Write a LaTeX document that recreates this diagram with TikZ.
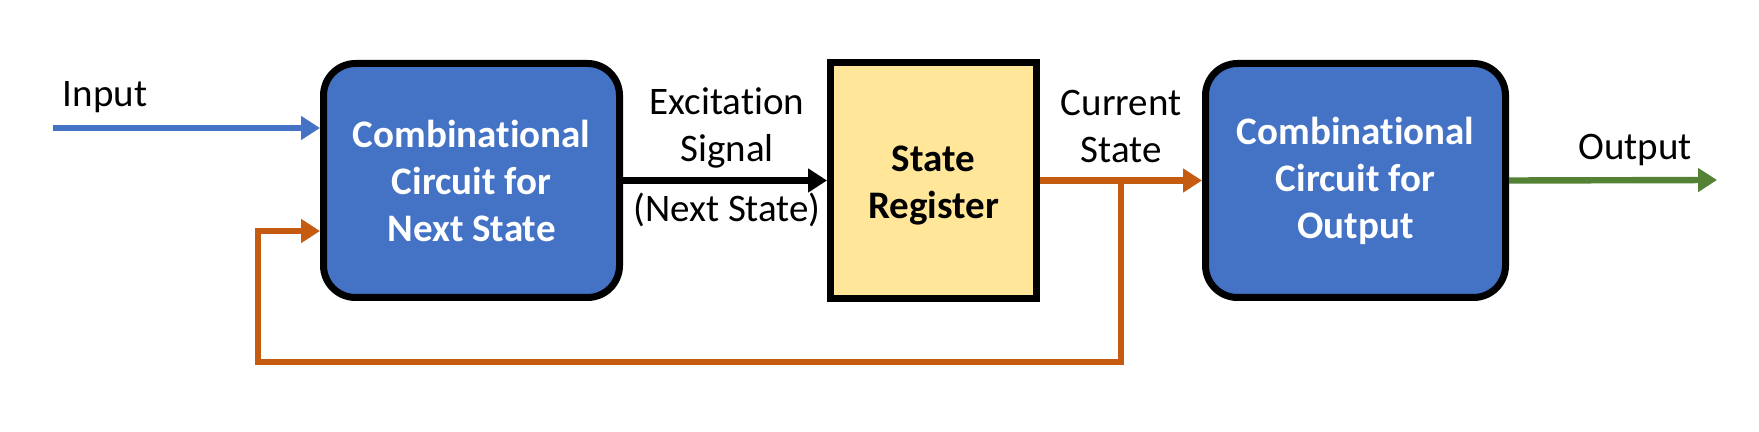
\documentclass[tikz,border=0pt]{standalone}
\usepackage{fontspec}
\setmainfont{Carlito}[Ligatures=NoCommon]
\usetikzlibrary{arrows.meta}
\definecolor{boxblue}{HTML}{4472C4}
\definecolor{regyellow}{HTML}{FFE699}
\definecolor{fborange}{HTML}{C55A11}
\definecolor{outgreen}{HTML}{548235}
\begin{document}
\begin{tikzpicture}[x=0.5pt,y=-0.5pt,
  bigfont/.style={font=\fontsize{19.5}{23.5}\selectfont},
  blockbase/.style={draw=black, line width=3.5pt, align=center, inner sep=0pt},
  combbox/.style={blockbase, fill=boxblue, rounded corners=16pt, text=white,
    font=\fontsize{19.5}{23.5}\selectfont\bfseries, minimum height=117pt},
  regbox/.style={blockbase, fill=regyellow, text=black,
    font=\fontsize{19.5}{23.5}\selectfont\bfseries, minimum width=103pt, minimum height=118pt},
  lbl/.style={bigfont, align=center, anchor=base, inner sep=0pt},
  wire/.style={line width=3.2pt},
  arr/.style={wire, -{Triangle[length=9.5pt,width=11.5pt]}}
]
\useasboundingbox (0,0) rectangle (1759,432);

% blocks
\node[combbox, minimum width=148pt] (ns) at (471.5,180.5) {Combinational\\Circuit for\\Next State};
\node[regbox] (reg) at (933.5,180.5) {\rule{0pt}{18pt}State\\Register};
\node[combbox, minimum width=150pt] (out) at (1355.5,180.5) {Combinational\\Circuit for\\Output};

% labels (base = baseline of the last line)
\node[lbl] (linput) at (105,107) {Input};
\node[lbl] (lexc) at (727,162) {Excitation\\Signal};
\node[lbl] (lnext) at (727,222) {(Next State)};
\node[lbl] (lcur) at (1121,163) {Current\\State};
\node[lbl] (lout) at (1635,160) {Output};

% connector end points
\coordinate (inS) at (53,128);
\coordinate (outE) at (1717,180);
\coordinate (br) at (1121,180);
\coordinate (fbA) at (1121,362);
\coordinate (fbB) at (258,362);
\coordinate (fbC) at (258,231);

% connectors
\draw[arr, boxblue] (inS) -- (inS -| ns.west);
\draw[arr, black] (ns.east) -- (ns.east -| reg.west);
\draw[arr, fborange] (reg.east) -- (reg.east -| out.west);
\draw[arr, outgreen] (out.east) -- (outE);
\draw[arr, fborange] (br) -- (fbA) -- (fbB) -- (fbC) -- (fbC -| ns.west);
\end{tikzpicture}
\end{document}
